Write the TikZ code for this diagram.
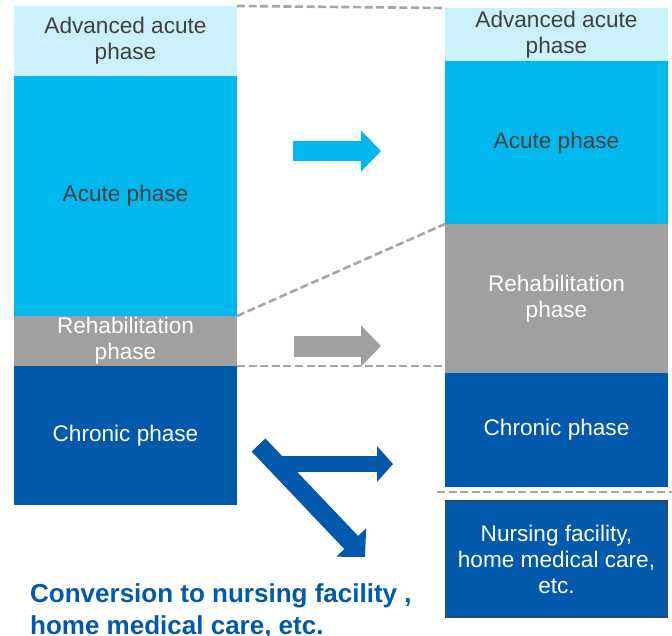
\documentclass[tikz,border=0pt]{standalone}
\usepackage{fontspec}
\setmainfont{Liberation Sans}
\usetikzlibrary{positioning,arrows.meta}

\definecolor{advcyan}{HTML}{CBF1FD}
\definecolor{acucyan}{HTML}{00B8EE}
\definecolor{rehgray}{HTML}{A0A0A0}
\definecolor{chrblue}{HTML}{0059AA}
\definecolor{txtgray}{HTML}{404040}
\definecolor{dashgray}{HTML}{A6A6A6}

\tikzset{
  phase/.style={inner sep=0pt, outer sep=0pt, minimum width=223pt, align=center,
    font=\fontsize{22.6}{26}\selectfont},
  sep/.style={dashgray, line width=2.6pt, dash pattern=on 8pt off 3.6pt},
  bigarrow/.style={line width=#1, -{Triangle[width=40pt,length=20pt]}},
}

\begin{document}
\begin{tikzpicture}[x=1pt,y=-1pt]
        \useasboundingbox (0,0) rectangle (672,636);

        % Before
        \node[phase, fill=advcyan, text=txtgray, minimum height=70pt, anchor=north west] (ladv) at (14,6) {Advanced acute\\phase};
        \node[phase, fill=acucyan, text=txtgray, minimum height=240pt, below=0pt of ladv] (lacu) {Acute phase};
        \node[phase, fill=rehgray, text=white, minimum height=50pt, below=0pt of lacu] (lreh) {Rehabilitation\\phase};
        \node[phase, fill=chrblue, text=white, minimum height=139pt, below=0pt of lreh] (lchr) {Chronic phase};

        % After
        \node[phase, fill=advcyan, text=txtgray, minimum height=53pt, anchor=north west] (radv) at (445,8) {Advanced acute\\phase};
        \node[phase, fill=acucyan, text=txtgray, minimum height=163pt, below=0pt of radv] (racu) {Acute phase};
        \node[phase, fill=rehgray, text=white, minimum height=149pt, below=0pt of racu] (rreh) {Rehabilitation\\phase};
        \node[phase, fill=chrblue, text=white, minimum height=114pt, below=0pt of rreh] (rchr) {Chronic phase};
        \node[phase, fill=chrblue, text=white, draw=txtgray, line width=0.8pt, minimum width=222pt, minimum height=117pt, anchor=north west] (nurs) at (445.5,500.5) {Nursing facility,\\home medical care,\\etc.};

        % Dashed guides
        \draw[sep] (ladv.north east) -- (radv.north west);
        \draw[sep] (lreh.north east) -- (rreh.north west);
        \draw[sep] (lreh.south east) -- (rreh.south west |- lreh.south);
        \coordinate (cutl) at (437,492);
        \coordinate (cutr) at (672,492);
        \draw[sep] (cutl) -- (cutr);

        % Shift arrows
        \draw[acucyan, bigarrow=20pt] (293,151) -- (381,151);
        \draw[rehgray, bigarrow=21pt] (294,346) -- (381,346);
        \draw[chrblue, bigarrow=19pt] (258.5,445) -- (365,557);
        \draw[chrblue, line width=16pt, -{Triangle[width=35pt,length=16pt]}] (272,464) -- (393,464);

        % Caption
        \node[anchor=north west, align=left, text=chrblue, inner sep=0pt,
          font=\fontsize{26}{32}\selectfont\bfseries] (conv) at (30,583) {Conversion to nursing facility ,\\home medical care, etc.};
\end{tikzpicture}
\end{document}
